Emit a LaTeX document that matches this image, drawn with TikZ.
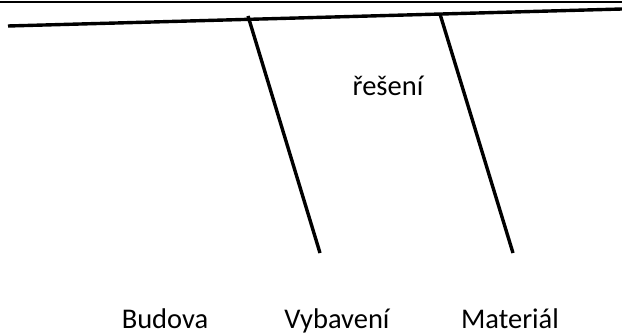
\documentclass[tikz,border=0pt]{standalone}
\usepackage{fontspec}
\setmainfont{Carlito}
\begin{document}
\begin{tikzpicture}[x=1pt,y=-1pt,
  thick line/.style={line width=3.4pt,line cap=butt},
  lbl/.style={inner sep=0pt,anchor=base,font=\fontsize{28.5}{34}\selectfont}]
\useasboundingbox (0,0) rectangle (622,334);
% top border
\coordinate (bl) at (0,2);
\coordinate (br) at (622,2);
\draw[line width=2pt] (bl) -- (br);
% main line
\coordinate (m1) at (8,26);
\coordinate (m2) at (622,9);
\draw[thick line] (m1) -- (m2);
% branches
\coordinate (a1) at (248,16);
\coordinate (a2) at (320,253);
\coordinate (b1) at (440,14);
\coordinate (b2) at (513,253);
\draw[thick line] (a1) -- (a2);
\draw[thick line] (b1) -- (b2);
% labels
\node[lbl] (res) at (388,96) {řešení};
\node[lbl] (bud) at (165,328) {Budova};
\node[lbl] (vyb) at (337,328) {Vybavení};
\node[lbl] (mat) at (510,328) {Materiál};
\end{tikzpicture}
\end{document}
